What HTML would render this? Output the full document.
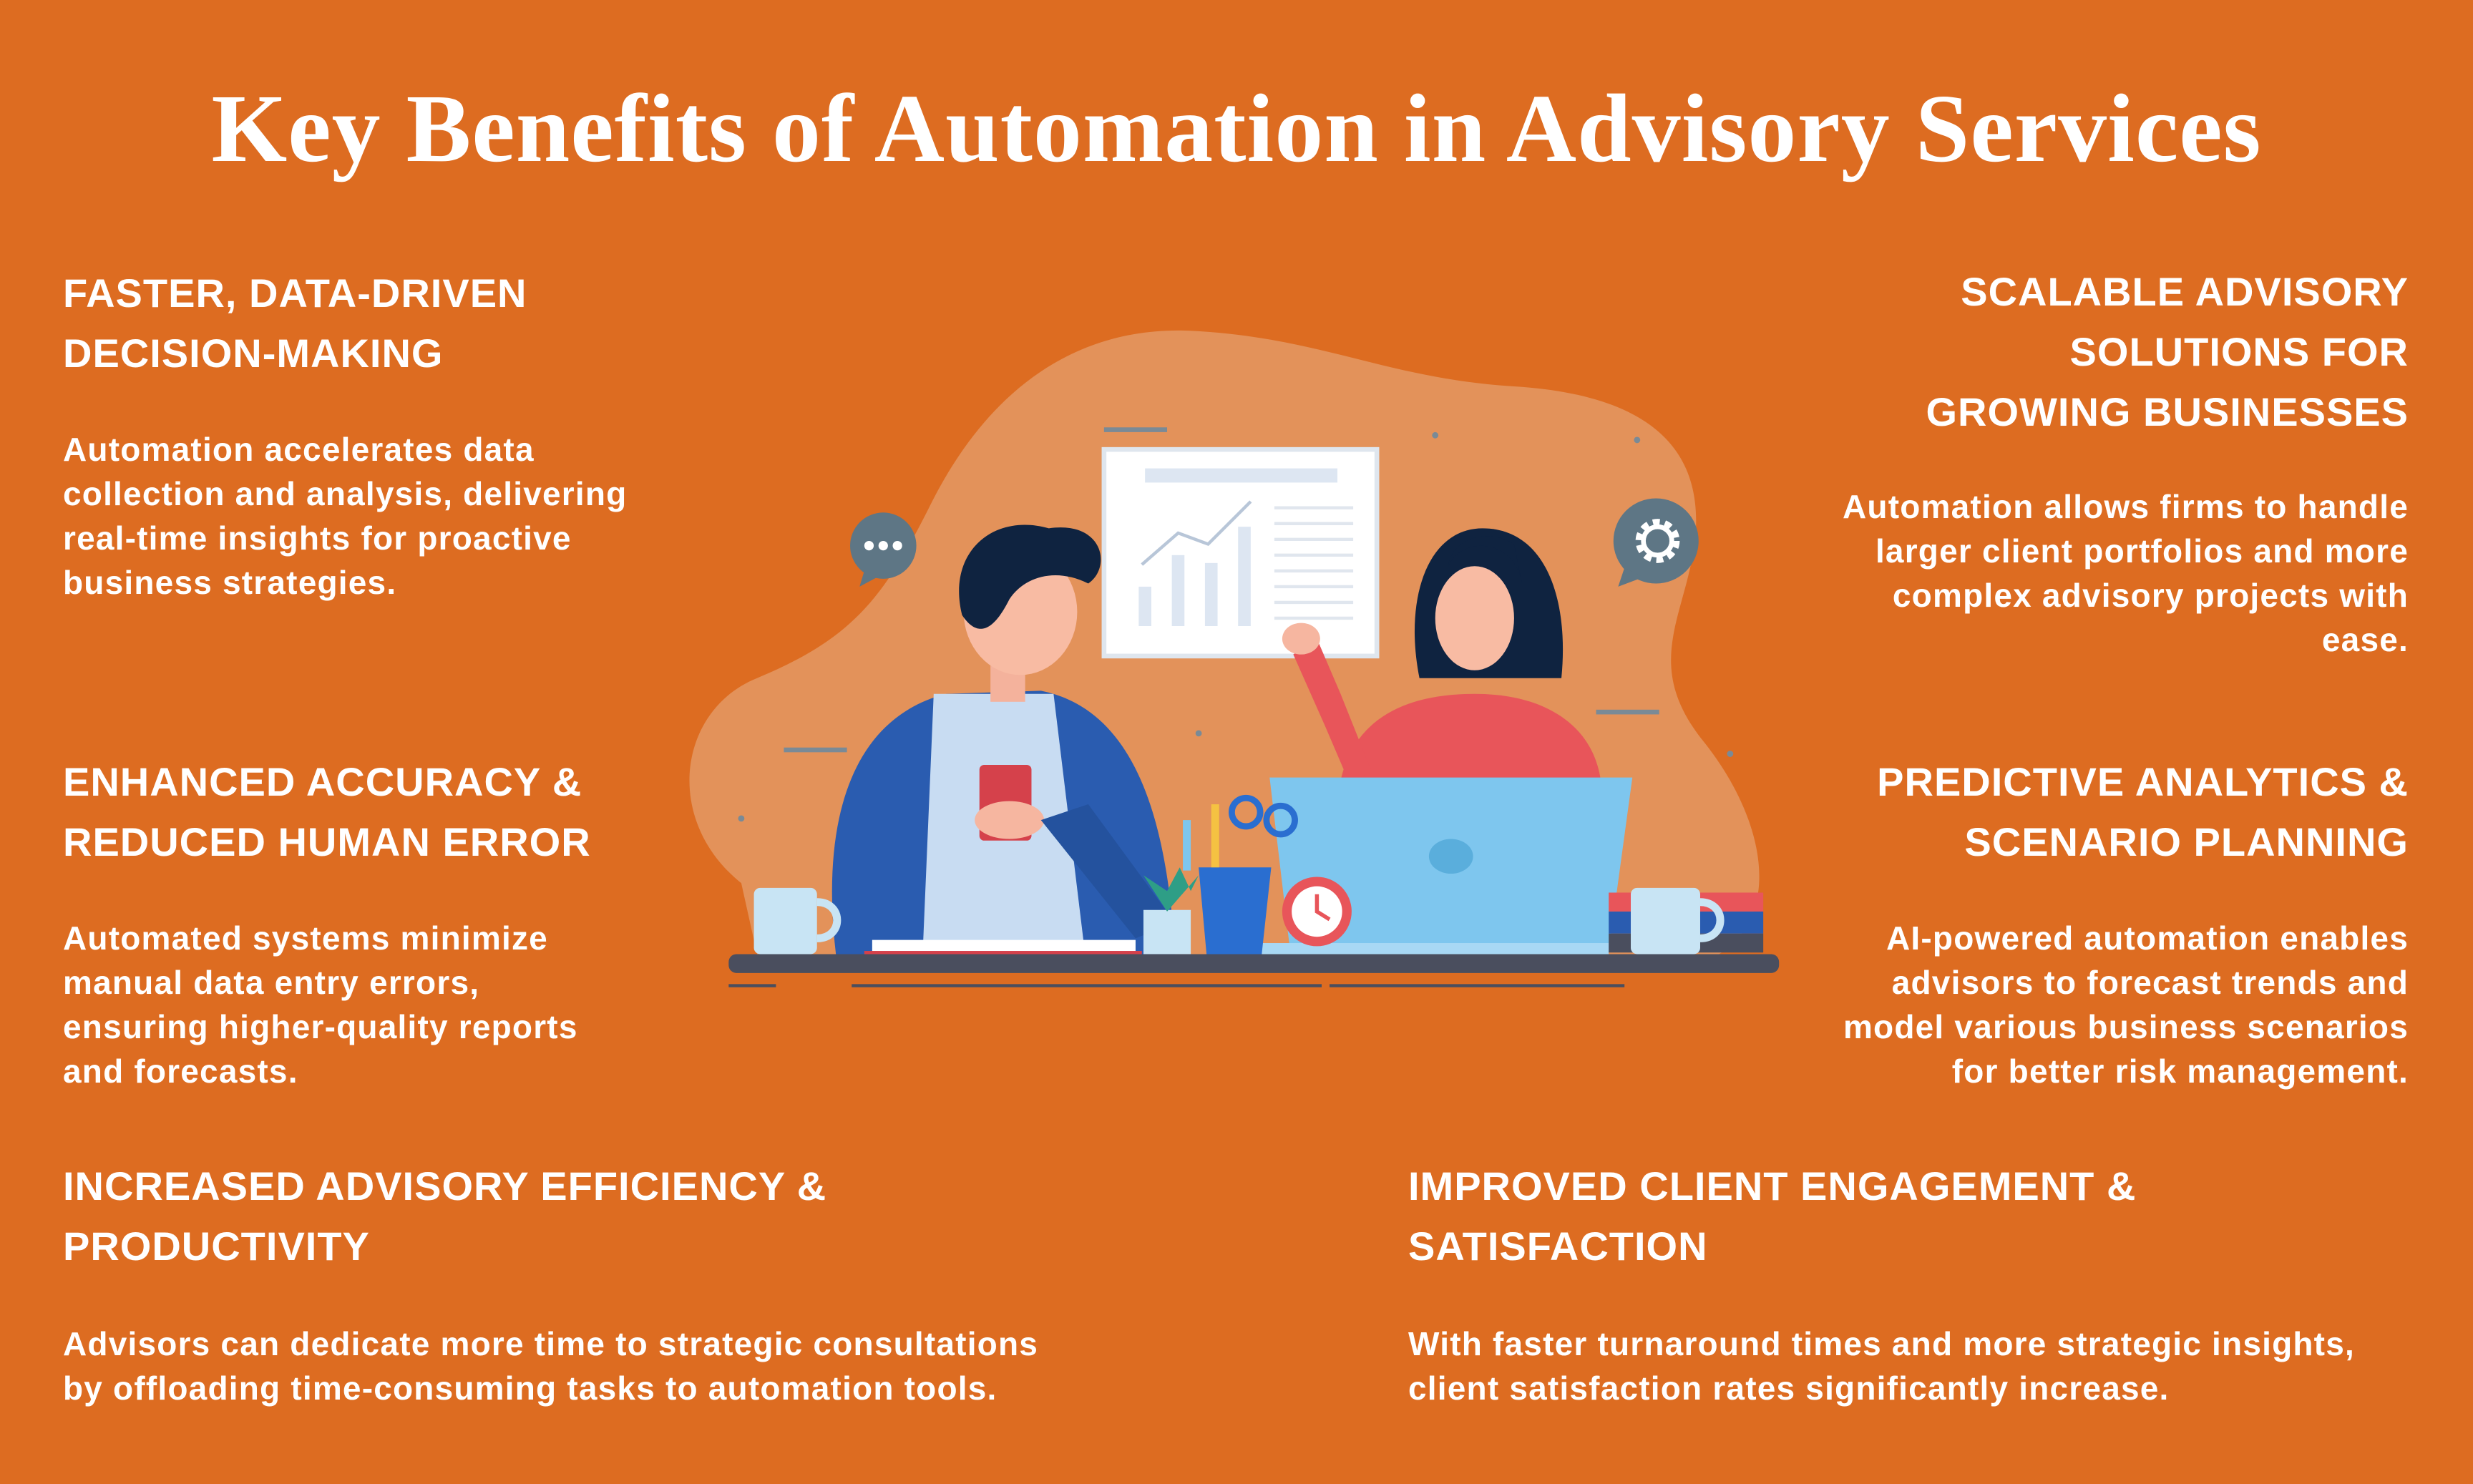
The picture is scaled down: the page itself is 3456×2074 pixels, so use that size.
<!DOCTYPE html>
<html><head><meta charset="utf-8"><style>
html,body{margin:0;padding:0}
body{width:3456px;height:2074px;background:#DD6C21;position:relative;overflow:hidden;font-family:"Liberation Sans",sans-serif;color:#fff}
.t{position:absolute;left:0;width:3456px;text-align:center;top:100px;font-family:"Liberation Serif",serif;font-weight:bold;font-size:136px;line-height:160px;letter-spacing:1px}
.h{position:absolute;font-size:56px;line-height:84px;font-weight:bold;letter-spacing:1px;white-space:nowrap}
.b{position:absolute;font-size:46px;line-height:62px;font-weight:bold;letter-spacing:1.2px;white-space:nowrap}
.r{text-align:right}
svg{position:absolute;left:0;top:0}
</style></head><body>
<svg width="3456" height="2074" viewBox="0 0 1568 941">
<path d="M470,560 C420,520 430,450 480,430 C540,405 560,380 590,320 C630,240 690,205 760,210 C840,215 880,240 960,245 C1040,250 1080,280 1075,340 C1070,390 1040,420 1080,470 C1120,520 1130,580 1090,605 L480,605 Z" fill="#E3925A"/>
<g fill="#7A8A96"><rect x="700" y="271" width="40" height="3"/><rect x="497" y="474" width="40" height="3"/><rect x="1012" y="450" width="40" height="3"/><circle cx="910" cy="276" r="2"/><circle cx="1038" cy="279" r="2"/><circle cx="470" cy="519" r="2"/><circle cx="760" cy="465" r="2"/><circle cx="1097" cy="478" r="2"/></g>
<rect x="700" y="285" width="173" height="131" fill="#fff" stroke="#dfe6ee" stroke-width="3"/>
<rect x="726" y="297" width="122" height="9" fill="#dde6f2"/>
<g fill="#dde6f2"><rect x="722" y="372" width="8" height="25"/><rect x="743" y="352" width="8" height="45"/><rect x="764" y="357" width="8" height="40"/><rect x="785" y="334" width="8" height="63"/></g>
<polyline points="724,358 747,338 766,345 793,318" fill="none" stroke="#b8c6d8" stroke-width="2"/>
<g stroke="#e0e6ee" stroke-width="2"><line x1="808" y1="322" x2="858" y2="322"/><line x1="808" y1="332" x2="858" y2="332"/><line x1="808" y1="342" x2="858" y2="342"/><line x1="808" y1="352" x2="858" y2="352"/><line x1="808" y1="362" x2="858" y2="362"/><line x1="808" y1="372" x2="858" y2="372"/><line x1="808" y1="382" x2="858" y2="382"/><line x1="808" y1="392" x2="858" y2="392"/></g>
<circle cx="560" cy="346" r="21" fill="#5E7685"/><path d="M548,362 L545,372 L558,365Z" fill="#5E7685"/>
<g fill="#fff"><circle cx="551" cy="346" r="3"/><circle cx="560" cy="346" r="3"/><circle cx="569" cy="346" r="3"/></g>
<circle cx="1050" cy="343" r="27" fill="#5E7685"/><path d="M1030,360 L1026,372 L1042,366Z" fill="#5E7685"/>
<circle cx="1051" cy="343" r="11" fill="none" stroke="#fff" stroke-width="6" stroke-dasharray="4 3"/><circle cx="1051" cy="343" r="9" fill="none" stroke="#fff" stroke-width="3"/>
<path d="M530,605 C520,520 540,455 600,440 L660,438 C720,450 740,520 745,605 Z" fill="#2A5CB0"/>
<path d="M585,605 L592,440 L668,440 L688,605Z" fill="#C8DCF2"/>
<rect x="628" y="400" width="22" height="45" fill="#F4B29C"/>
<ellipse cx="647" cy="388" rx="36" ry="40" fill="#F8BBA3"/>
<path d="M610,390 C600,350 630,325 665,335 C700,330 705,360 690,370 C670,360 650,365 640,380 C630,400 620,405 610,390Z" fill="#0F2340"/>
<rect x="621" y="485" width="33" height="48" rx="3" fill="#D5414B"/>
<ellipse cx="640" cy="520" rx="22" ry="12" fill="#F6B6A0"/>
<path d="M660,520 L720,595 L745,585 L690,510Z" fill="#24529e"/>
<path d="M900,430 C890,380 905,335 940,335 C980,335 995,380 990,430 Z" fill="#0F2340"/>
<ellipse cx="935" cy="392" rx="25" ry="33" fill="#F8BBA3"/>
<path d="M918,360 C925,340 960,340 965,370 L960,345 C945,335 920,340 918,360Z" fill="#0F2340"/>
<path d="M850,495 C860,450 900,440 935,440 C980,440 1010,460 1015,495Z" fill="#E8555A"/>
<path d="M820,415 L840,460 L855,495 L870,490 L850,440 L835,405Z" fill="#E8555A"/>
<ellipse cx="825" cy="405" rx="12" ry="10" fill="#F6B6A0"/>
<path d="M805,493 L1035,493 L1020,603 L818,603Z" fill="#7EC6EE"/>
<ellipse cx="920" cy="543" rx="14" ry="11" fill="#5AAEDC"/>
<rect x="800" y="598" width="220" height="8" fill="#A8D8F4"/>
<rect x="478" y="563" width="40" height="42" rx="4" fill="#C8E4F4"/><path d="M518,572 C535,572 535,595 518,595" fill="none" stroke="#C8E4F4" stroke-width="5"/>
<rect x="1020" y="566" width="98" height="12" fill="#E8555A"/><rect x="1020" y="578" width="98" height="14" fill="#2A5CB0"/><rect x="1020" y="592" width="98" height="12" fill="#4A4E5E"/>
<rect x="1034" y="563" width="44" height="42" rx="4" fill="#C8E4F4"/><path d="M1078,572 C1095,572 1095,595 1078,595" fill="none" stroke="#C8E4F4" stroke-width="5"/>
<rect x="725" y="577" width="30" height="28" fill="#C8E4F4"/><path d="M740,578 L725,555 L740,565 L748,550 L755,565 L760,555 Z" fill="#2E9E86"/>
<path d="M760,550 L806,550 L800,605 L765,605Z" fill="#2A6ED0"/>
<rect x="750" y="520" width="5" height="32" fill="#7EC6EE"/><rect x="768" y="510" width="5" height="40" fill="#F5C242"/><circle cx="790" cy="515" r="9" fill="none" stroke="#2A6ED0" stroke-width="4"/><circle cx="812" cy="520" r="9" fill="none" stroke="#2A6ED0" stroke-width="4"/>
<circle cx="835" cy="578" r="22" fill="#E8555A"/><circle cx="835" cy="578" r="16" fill="#fff"/><path d="M835,567 L835,578 L843,583" stroke="#E8555A" stroke-width="2.5" fill="none"/>
<path d="M553,596 L720,596 L720,605 L553,605Z" fill="#fff"/><rect x="548" y="603" width="176" height="3" fill="#D5414B"/>
<rect x="462" y="605" width="666" height="12" rx="5" fill="#4A4E5E"/>
<g stroke="#4A4E5E" stroke-width="2"><line x1="462" y1="625" x2="492" y2="625"/><line x1="540" y1="625" x2="838" y2="625"/><line x1="843" y1="625" x2="1030" y2="625"/></g>
</svg>
<div class="t">Key Benefits of Automation in Advisory Services</div>

<div class="h" style="left:88px;top:368px">FASTER, DATA-DRIVEN<br>DECISION-MAKING</div>
<div class="b" style="left:88px;top:597px">Automation accelerates data<br>collection and analysis, delivering<br>real-time insights for proactive<br>business strategies.</div>

<div class="h" style="left:88px;top:1051px">ENHANCED ACCURACY &amp;<br>REDUCED HUMAN ERROR</div>
<div class="b" style="left:88px;top:1280px">Automated systems minimize<br>manual data entry errors,<br>ensuring higher-quality reports<br>and forecasts.</div>

<div class="h" style="left:88px;top:1616px">INCREASED ADVISORY EFFICIENCY &amp;<br>PRODUCTIVITY</div>
<div class="b" style="left:88px;top:1847px">Advisors can dedicate more time to strategic consultations<br>by offloading time-consuming tasks to automation tools.</div>

<div class="h r" style="right:90px;top:366px">SCALABLE ADVISORY<br>SOLUTIONS FOR<br>GROWING BUSINESSES</div>
<div class="b r" style="right:90px;top:677px">Automation allows firms to handle<br>larger client portfolios and more<br>complex advisory projects with<br>ease.</div>

<div class="h r" style="right:90px;top:1051px">PREDICTIVE ANALYTICS &amp;<br>SCENARIO PLANNING</div>
<div class="b r" style="right:90px;top:1280px">AI-powered automation enables<br>advisors to forecast trends and<br>model various business scenarios<br>for better risk management.</div>

<div class="h" style="left:1968px;top:1616px">IMPROVED CLIENT ENGAGEMENT &amp;<br>SATISFACTION</div>
<div class="b" style="left:1968px;top:1847px">With faster turnaround times and more strategic insights,<br>client satisfaction rates significantly increase.</div>
</body></html>
